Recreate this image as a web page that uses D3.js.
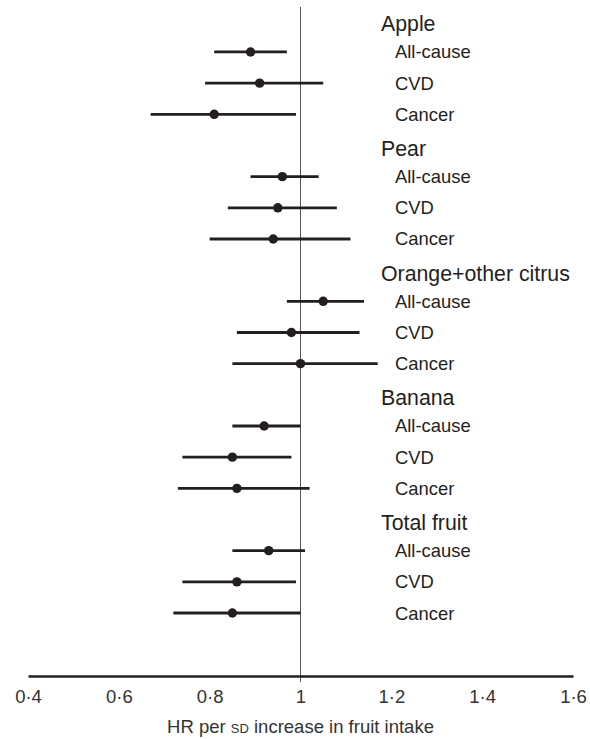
<!DOCTYPE html>
<html>
<head>
<meta charset="utf-8">
<script src="https://cdn.jsdelivr.net/npm/d3@7"></script>
<style>
  body { margin: 0; background: #fff; }
  svg { display: block; font-family: "Liberation Sans", Arial, sans-serif; }
</style>
</head>
<body>
<div id="chart"></div>
<script>
// Forest plot data: HR per SD increase in fruit intake
const groups = ['Apple', 'Pear', 'Orange+other citrus', 'Banana', 'Total fruit'];
const outcomes = ['All-cause', 'CVD', 'Cancer'];
const hr    = [[0.89, 0.91, 0.81], [0.96, 0.95, 0.94], [1.05, 0.98, 1.00], [0.92, 0.85, 0.86], [0.93, 0.86, 0.85]];
const lower = [[0.81, 0.79, 0.67], [0.89, 0.84, 0.80], [0.97, 0.86, 0.85], [0.85, 0.74, 0.73], [0.85, 0.74, 0.72]];
const upper = [[0.97, 1.05, 0.99], [1.04, 1.08, 1.11], [1.14, 1.13, 1.17], [1.00, 0.98, 1.02], [1.01, 0.99, 1.00]];
const tickValues = [0.4, 0.6, 0.8, 1.0, 1.2, 1.4, 1.6];

const width = 590, height = 739;
const ink = '#231f20';

const svg = d3.select('#chart').append('svg')
    .attr('width', width)
    .attr('height', height);

// one slot per header + one per outcome row
const slots = [];
groups.forEach((g, gi) => {
    slots.push({ key: g, type: 'header', label: g });
    outcomes.forEach((o, oi) => {
        slots.push({ key: g + '|' + o, type: 'row', label: o, hr: hr[gi][oi], lo: lower[gi][oi], hi: upper[gi][oi] });
    });
});

const x = d3.scaleLinear().domain([0.4, 1.6]).range([28, 573]);
const y = d3.scalePoint().domain(slots.map(d => d.key)).range([20.8, 613]);

// reference line at HR = 1
svg.append('line')
    .attr('x1', x(1)).attr('x2', x(1))
    .attr('y1', 7).attr('y2', 682)
    .attr('stroke', '#555').attr('stroke-width', 1);

// x axis
const axisY = 676;
const fmt = v => (v === 1 ? '1' : d3.format('.1f')(v).replace('.', '·'));
const axis = svg.append('g')
    .attr('transform', `translate(0,${axisY})`)
    .call(d3.axisBottom(x).tickValues(tickValues).tickFormat(fmt).tickSize(0).tickPadding(14));
axis.select('.domain').attr('stroke', ink).attr('stroke-width', 2.5);
axis.selectAll('text')
    .attr('fill', '#333')
    .style('font-size', '18.5px')
    .style('font-family', '"Liberation Sans", Arial, sans-serif');

const title = svg.append('text')
    .attr('x', x(1))
    .attr('y', 733)
    .attr('text-anchor', 'middle')
    .attr('fill', '#333')
    .style('font-size', '18.5px');
title.append('tspan').text('HR per ');
title.append('tspan').style('font-variant', 'small-caps').text('sd');
title.append('tspan').text(' increase in fruit intake');

// confidence intervals and estimates
const rows = slots.filter(d => d.type === 'row');
svg.selectAll('.ci')
    .data(rows)
    .join('line')
    .attr('class', 'ci')
    .attr('x1', d => x(d.lo))
    .attr('x2', d => x(d.hi))
    .attr('y1', d => y(d.key))
    .attr('y2', d => y(d.key))
    .attr('stroke', ink)
    .attr('stroke-width', 2.8);

svg.selectAll('.pt')
    .data(rows)
    .join('circle')
    .attr('class', 'pt')
    .attr('cx', d => x(d.hr))
    .attr('cy', d => y(d.key))
    .attr('r', 4.7)
    .attr('fill', ink);

// labels
svg.selectAll('.label')
    .data(slots)
    .join('text')
    .attr('class', 'label')
    .attr('x', d => d.type === 'header' ? 381 : 395)
    .attr('y', d => y(d.key) + (d.type === 'header' ? 10.5 : 6.5))
    .attr('fill', ink)
    .style('font-size', d => d.type === 'header' ? '21.3px' : '18.4px')
    .text(d => d.label);
</script>
</body>
</html>
